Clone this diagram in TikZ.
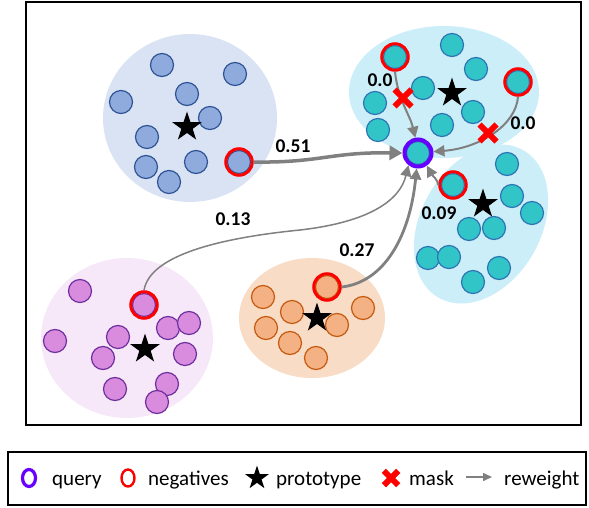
\documentclass[tikz,border=0pt]{standalone}
\usepackage{fontspec}
\setmainfont{Carlito}
\usetikzlibrary{arrows.meta,shapes.geometric}
\definecolor{blueBg}{HTML}{DAE3F3}
\definecolor{blueFill}{HTML}{8FAADC}
\definecolor{blueEdge}{HTML}{2F5597}
\definecolor{tealBg}{HTML}{CCEEF8}
\definecolor{tealFill}{HTML}{31C5C7}
\definecolor{tealEdge}{HTML}{2E75B6}
\definecolor{purpBg}{HTML}{F6E8F9}
\definecolor{purpFill}{HTML}{D98CDE}
\definecolor{purpEdge}{HTML}{7030A0}
\definecolor{orBg}{HTML}{F8DCC5}
\definecolor{orFill}{HTML}{F4B183}
\definecolor{orEdge}{HTML}{C55A11}
\definecolor{qcol}{HTML}{6600FF}
\definecolor{arrgray}{HTML}{808080}
\begin{document}
\begin{tikzpicture}[x=1pt,y=-1pt,
  pt/.style={circle, minimum size=23pt, inner sep=0pt, line width=1.2pt},
  bpt/.style={pt, fill=blueFill, draw=blueEdge},
  tpt/.style={pt, fill=tealFill, draw=tealEdge},
  ppt/.style={pt, fill=purpFill, draw=purpEdge},
  opt/.style={pt, fill=orFill, draw=orEdge},
  neg/.style={circle, minimum size=26.5pt, inner sep=0pt, draw=red, line width=3pt},
  qring/.style={circle, minimum size=27pt, inner sep=0pt, draw=qcol, line width=4pt},
  proto/.style={star, star points=5, star point ratio=2.6, fill=black, minimum size=31pt, inner sep=0pt},
  arr/.style={draw=arrgray, -{Triangle[length=11pt,width=11pt]}},
  lbl/.style={font=\fontsize{19.5}{22}\selectfont\bfseries, inner sep=0pt},
  leg/.style={font=\fontsize{21}{24}\selectfont, inner sep=0pt, anchor=base west},
  xm/.pic={\draw[red, line width=6pt] (-8.5,-8.5) -- (8.5,8.5) (-8.5,8.5) -- (8.5,-8.5);}
]
\useasboundingbox (0,0) rectangle (589,508);
% frame
\draw[line width=2pt] (26,2) rectangle (581,425);
% cluster backgrounds
\fill[blueBg] (190,118) ellipse [x radius=87pt, y radius=84pt];
\fill[tealBg] (444,92) ellipse [x radius=95pt, y radius=66pt];
\fill[tealBg, rotate around={60:(481,224)}] (481,224) ellipse [x radius=85pt, y radius=60pt];
\fill[purpBg] (127,338) ellipse [x radius=86pt, y radius=80pt];
\fill[orBg] (312,318) ellipse [x radius=73pt, y radius=60pt];

% blue cluster
\node[bpt] (b1) at (162,65) {};
\node[bpt] (b2) at (235,74) {};
\node[bpt] (b3) at (121,102) {};
\node[bpt] (b4) at (187,94) {};
\node[bpt] (b5) at (210,118) {};
\node[bpt] (b6) at (147,137) {};
\node[bpt] (b7) at (146,167) {};
\node[bpt] (b8) at (169,182) {};
\node[bpt] (b9) at (196,162) {};
\node[bpt] (b10) at (239,162) {};
\node[neg] (nb) at (239,162) {};
\node[proto] (sb) at (187,127) {};

% top teal cluster
\node[tpt] (t1) at (395,57) {};
\node[neg] (nt1) at (395,57) {};
\node[tpt] (t2) at (452,45) {};
\node[tpt] (t3) at (476,69) {};
\node[tpt] (t4) at (518,82) {};
\node[neg] (nt2) at (518,82) {};
\node[tpt] (t5) at (423,88) {};
\node[tpt] (t6) at (375,103) {};
\node[tpt] (t7) at (473,112) {};
\node[tpt] (t8) at (378,130) {};
\node[tpt] (t9) at (442,125) {};
\node[proto] (st) at (452,93) {};

% right teal cluster
\node[tpt] (r1) at (453,185) {};
\node[neg] (nr) at (453,185) {};
\node[tpt] (r2) at (507,164) {};
\node[tpt] (r3) at (512,196) {};
\node[tpt] (r4) at (532,213) {};
\node[tpt] (r5) at (469,229) {};
\node[tpt] (r6) at (494,228) {};
\node[tpt] (r7) at (428,258) {};
\node[tpt] (r8) at (449,257) {};
\node[tpt] (r9) at (499,268) {};
\node[tpt] (r10) at (473,282) {};
\node[proto] (sr) at (483,204) {};

% query
\node[tpt] (qi) at (418,153) {};
\node[qring] (q) at (418,153) {};

% purple cluster
\node[ppt] (p1) at (80,291) {};
\node[ppt] (p2) at (144,305) {};
\node[neg] (np) at (144,305) {};
\node[ppt] (p3) at (55,341) {};
\node[ppt] (p4) at (118,337) {};
\node[ppt] (p5) at (168,328) {};
\node[ppt] (p6) at (189,323) {};
\node[ppt] (p7) at (103,358) {};
\node[ppt] (p8) at (185,354) {};
\node[ppt] (p9) at (115,389) {};
\node[ppt] (p10) at (167,384) {};
\node[ppt] (p11) at (157,402) {};
\node[proto] (sp) at (145,349) {};

% orange cluster
\node[opt] (o1) at (327,287) {};
\node[neg] (no) at (327,287) {};
\node[opt] (o2) at (263,297) {};
\node[opt] (o3) at (292,312) {};
\node[opt] (o4) at (363,308) {};
\node[opt] (o5) at (266,328) {};
\node[opt] (o6) at (337,325) {};
\node[opt] (o7) at (290,343) {};
\node[opt] (o8) at (316,358) {};
\node[proto] (so) at (317,318) {};

% arrows
\draw[arr, line width=3.5pt, -{Triangle[length=13pt,width=14pt]}] (nb.east) .. controls (320,163) and (330,152) .. (q.west);
\draw[arr, line width=1.5pt] (np.north) .. controls (150,255) and (220,238) .. (300,230) .. controls (370,222) and (400,200) .. (q.232);
\draw[arr, line width=2.8pt] (no.east) .. controls (385,282) and (410,235) .. (q.265);
\draw[arr, line width=2pt] (nr.west) .. controls (438,180) and (432,175) .. (q.305);
\draw[arr, line width=2pt] (nt1.south) .. controls (398,100) and (410,115) .. (q.100);
\draw[arr, line width=2pt] (nt2.south) .. controls (516,125) and (480,148) .. (q.5);

% masks
\pic at (403,98) {xm};
\pic at (488,133) {xm};

% labels
\node[lbl] (l51) at (293,146) {0.51};
\node[lbl] (l13) at (233,219) {0.13};
\node[lbl] (l27) at (357,250) {0.27};
\node[lbl] (l09) at (439,213) {0.09};
\node[lbl] (l00a) at (380,80) {0.0};
\node[lbl] (l00b) at (523,123) {0.0};

% legend
\draw[line width=1.5pt] (8,452) rectangle (586,505);
\node[ellipse, minimum width=13pt, minimum height=17pt, inner sep=0pt, draw=qcol, line width=3.2pt] (lq) at (29,478) {};
\node[leg] (tq) at (52,485) {query};
\node[ellipse, minimum width=13pt, minimum height=17pt, inner sep=0pt, draw=red, line width=2.4pt] (ln) at (128,478) {};
\node[leg] (tn) at (148,485) {negatives};
\node[proto, minimum size=25pt] (ls) at (257,478) {};
\node[leg] (ts) at (276,485) {prototype};
\pic[scale=0.85] at (391,478) {xm};
\node[leg] (tm) at (409,485) {mask};
\coordinate (la1) at (466,477);
\coordinate (la2) at (492,477);
\draw[arr, line width=1.5pt, -{Triangle[length=9pt,width=8pt]}] (la1) -- (la2);
\node[leg] (tr) at (504,485) {reweight};
\end{tikzpicture}
\end{document}
